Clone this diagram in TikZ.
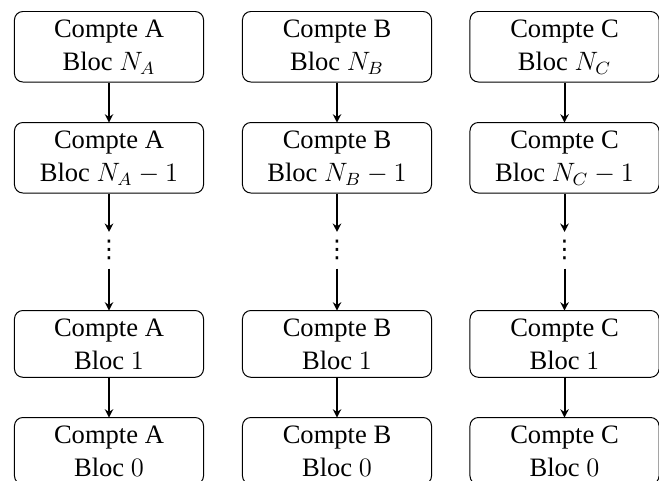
\documentclass[tikz,border=0pt]{standalone}
\usepackage{fontspec}
\setmainfont{Liberation Serif}
\newfontfamily\dotsfont{DejaVu Sans}
\usetikzlibrary{arrows.meta}
\begin{document}
\begin{tikzpicture}[x=0.4517pt,y=-0.4517pt,
  blocbox/.style={draw, line width=0.45pt, rounded corners=3.8pt, align=center,
    minimum width=85.4pt, inner xsep=2pt, inner ysep=3.6pt, anchor=north,
    font=\fontsize{12}{14.9}\selectfont},
  dotsnode/.style={inner xsep=1pt, inner ysep=4pt, outer sep=0pt, font=\dotsfont\fontsize{11}{12}\selectfont},
  link/.style={-{Stealth[length=3.8pt,width=3.8pt,inset=1.2pt]}, line width=0.9pt, shorten >=-0.3pt}]
\useasboundingbox (0,0) rectangle (659,480);
\foreach \c/\x in {A/109, B/337, C/564.5} {
  \node[blocbox] (\c1) at (\x,11) {Compte \c\\Bloc $N_\c$};
  \node[blocbox] (\c2) at (\x,122) {Compte \c\\Bloc $N_\c-1$};
  \node[dotsnode] (\c d) at (\x,250) {⋮};
  \node[blocbox] (\c3) at (\x,310) {Compte \c\\Bloc $1$};
  \node[blocbox] (\c4) at (\x,417) {Compte \c\\Bloc $0$};
  \draw[link] (\c1) -- (\c2);
  \draw[link] (\c2) -- (\c d);
  \draw[link] (\c d) -- (\c3);
  \draw[link] (\c3) -- (\c4);
}
\end{tikzpicture}
\end{document}
